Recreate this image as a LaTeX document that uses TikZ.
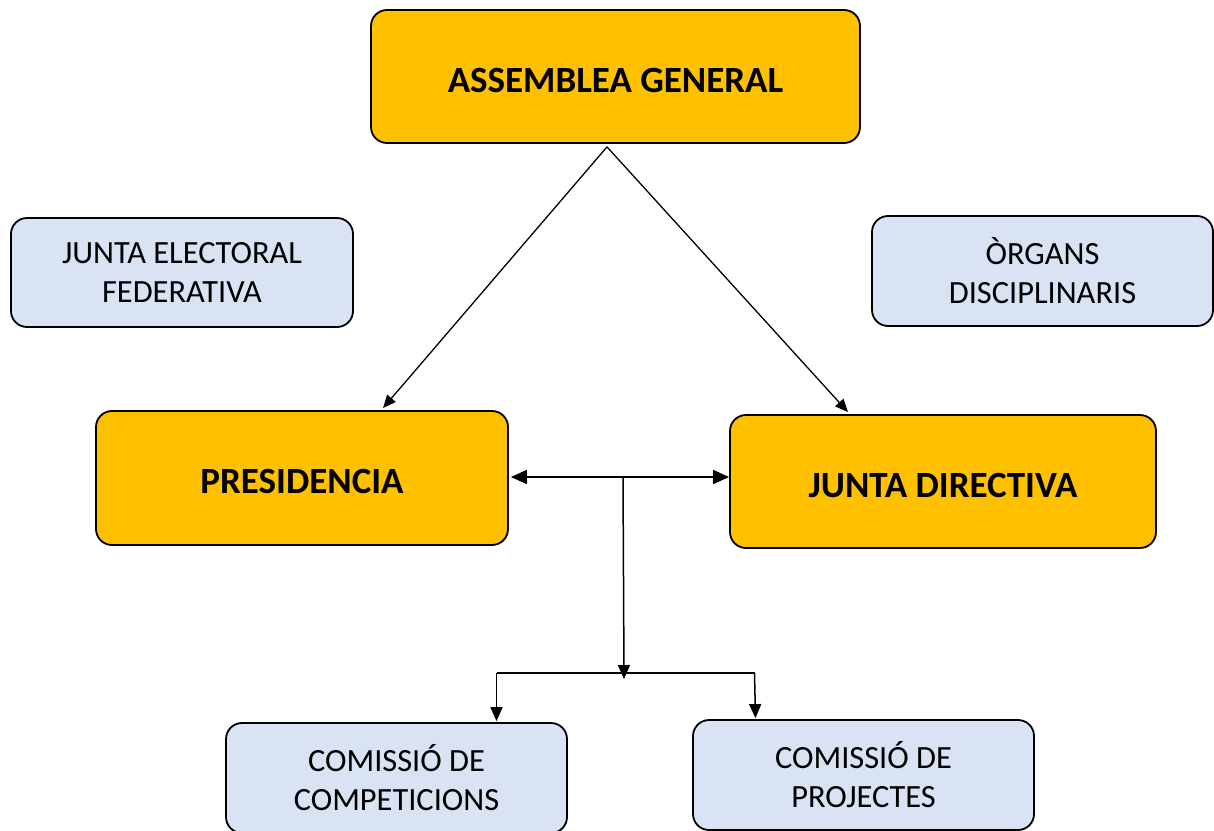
\documentclass[tikz,border=0pt]{standalone}
\usepackage{fontspec}
\setmainfont{Carlito}
\usetikzlibrary{arrows.meta,calc}
\definecolor{gold}{HTML}{FFC000}
\definecolor{paleblue}{HTML}{DAE3F3}
\tikzset{
  x=1pt,y=-1pt,
  goldbox/.style={draw=black,line width=1.8pt,fill=gold,rounded corners=16pt,
    inner sep=0pt,align=center,text height=31pt,text depth=0pt,
    font=\fontsize{37}{44}\selectfont\bfseries},
  bluebox/.style={draw=black,line width=1.8pt,fill=paleblue,rounded corners=16pt,
    inner sep=0pt,align=center,font=\fontsize{32.4}{39}\selectfont},
  conn/.style={line width=1.5pt,-{Triangle[length=14pt,width=12pt]}},
  thin/.style={line width=1.3pt,-{Triangle[length=13pt,width=11pt]}},
}
\begin{document}
\begin{tikzpicture}
\useasboundingbox (0,0) rectangle (1214,830);
\clip (0,0) rectangle (1214,830);
\node[goldbox,minimum width=489pt,minimum height=133pt] (ag) at (615.5,76.5) {ASSEMBLEA GENERAL};
\node[bluebox,minimum width=342pt,minimum height=109pt] (jef) at (182,272.5) {JUNTA ELECTORAL\\FEDERATIVA};
\node[bluebox,minimum width=341pt,minimum height=110pt] (od) at (1042.5,271) {ÒRGANS\\DISCIPLINARIS};
\node[goldbox,minimum width=412pt,minimum height=134pt] (pres) at (302,478) {PRESIDENCIA};
\node[goldbox,minimum width=426pt,minimum height=133pt] (jd) at (943,481.5) {JUNTA DIRECTIVA};
\node[bluebox,minimum width=341pt,minimum height=110pt] (comp) at (396.5,778) {COMISSIÓ DE\\COMPETICIONS};
\node[bluebox,minimum width=341pt,minimum height=110pt] (proj) at (863.5,775) {COMISSIÓ DE\\PROJECTES};
\coordinate (apex) at ($(ag.south)+(-8.5,3)$);
\draw[thin] (apex) -- ($(pres.north)+(81,-2)$);
\draw[thin] (apex) -- ($(jd.north)+(-95,-2)$);
\draw[conn,{Triangle[length=16pt,width=14pt]}-{Triangle[length=16pt,width=14pt]}] ($(pres.east)+(2,-1)$) -- ($(pres.east -| jd.west)+(0,-1)$);
\coordinate (split) at (623,477);
\coordinate (join) at (624,675);
\draw[conn] (split) -- ($(join)+(0,4)$);
\draw[line width=1.5pt] ($(comp.north)+(100,-49)$) -- ($(proj.north)+(-109,-46)$);
\draw[conn] ($(comp.north)+(100,-49)$) -- ($(comp.north)+(100,-1)$);
\draw[conn] ($(proj.north)+(-109,-46)$) -- ($(proj.north)+(-108,-1)$);
\end{tikzpicture}
\end{document}
